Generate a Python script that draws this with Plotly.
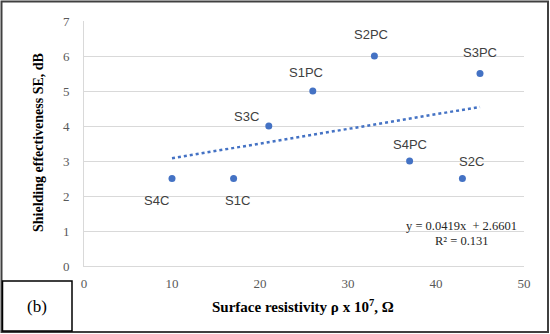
import plotly.graph_objects as go

labels = ["S4C", "S1C", "S3C", "S1PC", "S2PC", "S4PC", "S2C", "S3PC"]
resistivity = [10, 17, 21, 26, 33, 37, 43, 45]
se_db = [2.5, 2.5, 4, 5, 6, 3, 2.5, 5.5]
slope = 0.0419
intercept = 2.6601
r2 = 0.131
x_ticks = [0, 10, 20, 30, 40, 50]
y_ticks = [0, 1, 2, 3, 4, 5, 6, 7]

# label offsets in pixels (xshift, yshift)
offsets = {"S4C": (-16, -22), "S1C": (4, -22), "S3C": (-22, 10), "S1PC": (-7, 19),
           "S2PC": (-3, 22), "S4PC": (0, 17), "S2C": (9, 17), "S3PC": (0, 21)}

W, H = 550, 334
L, R, T, B = 84, 26, 21, 68
pw, ph = W - L - R, H - T - B

def px(x):
    return (x - L) / pw

def py(y):
    return (H - B - y) / ph

def note(x, y, text, size, family="Liberation Serif", color="#000000", angle=0):
    return dict(x=px(x), y=py(y), xref="paper", yref="paper", text=text, showarrow=False,
                xanchor="center", yanchor="middle", textangle=angle,
                font=dict(family=family, size=size, color=color))

fig = go.Figure()
tx = [min(resistivity), max(resistivity)]
fig.add_trace(go.Scatter(x=tx, y=[slope * v + intercept for v in tx], mode="lines",
                         line=dict(color="#4472C4", width=2.5, dash="dot"),
                         hoverinfo="skip", showlegend=False))
fig.add_trace(go.Scatter(x=resistivity, y=se_db, mode="markers",
                         marker=dict(color="#4472C4", size=7), showlegend=False))

annotations = []
for lab, xv, yv in zip(labels, resistivity, se_db):
    dx, dy = offsets[lab]
    annotations.append(dict(x=xv, y=yv, xref="x", yref="y", text=lab, showarrow=False,
                            xanchor="center", yanchor="middle", xshift=dx, yshift=dy,
                            font=dict(family="Liberation Sans", size=13, color="#404040")))
annotations.append(note(461, 226, f"y = {slope}x  + {intercept}", 12.5, color="#262626"))
annotations.append(note(462, 241, f"R² = {r2}", 12.5, color="#262626"))
annotations.append(note(37, 306, "(b)", 17))
annotations.append(note(303, 306, "<b>Surface resistivity ρ x 10<sup>7</sup>, Ω</b>", 15))
annotations.append(note(38, 143, "<b>Shielding effectiveness SE, dB</b>", 14, angle=-90))

shapes = [
    dict(type="rect", xref="paper", yref="paper", x0=px(1.5), x1=px(548), y0=py(1.5), y1=py(332),
         line=dict(color="#404040", width=2), fillcolor="rgba(0,0,0,0)", layer="above"),
    dict(type="rect", xref="paper", yref="paper", x0=px(2.5), x1=px(72), y0=py(281), y1=py(331),
         line=dict(color="#000000", width=1.5), fillcolor="rgba(0,0,0,0)", layer="above"),
]

fig.update_layout(
    width=W, height=H, margin=dict(l=L, r=R, t=T, b=B, autoexpand=False),
    paper_bgcolor="white", plot_bgcolor="white",
    annotations=annotations, shapes=shapes, showlegend=False,
    xaxis=dict(range=[0, 50], tickvals=x_ticks, showgrid=False, zeroline=False,
               showline=True, linecolor="#d9d9d9", linewidth=1, ticks="", automargin=False,
               ticklabelstandoff=5,
               tickfont=dict(family="Liberation Serif", size=13, color="#595959")),
    yaxis=dict(range=[0, 7], tickvals=y_ticks, showgrid=True, gridcolor="#d9d9d9",
               zeroline=False, showline=True, linecolor="#d9d9d9", linewidth=1, ticks="",
               automargin=False, ticklabelstandoff=11,
               tickfont=dict(family="Liberation Serif", size=13, color="#595959")),
)

fig.write_html("out.html", config={"displayModeBar": False},
               post_script="document.body.style.margin='0';document.body.style.overflow='hidden';")
